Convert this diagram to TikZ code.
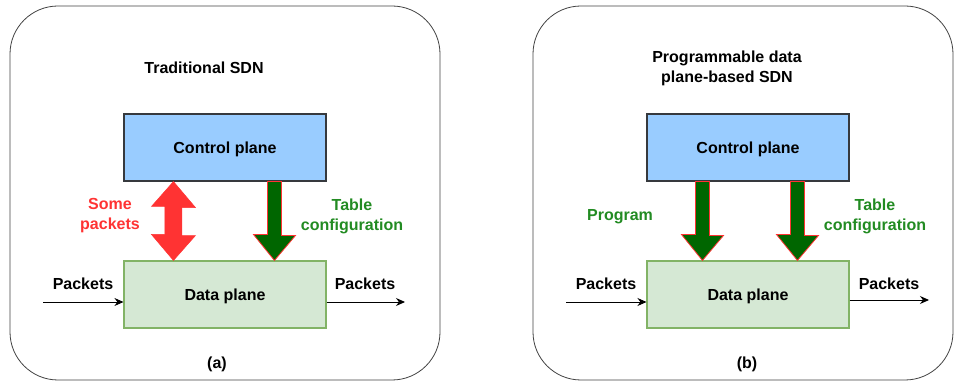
\documentclass[tikz,border=0pt]{standalone}
\usepackage{fontspec}
\setmainfont{Liberation Sans}
\usetikzlibrary{arrows.meta,positioning,calc}

\definecolor{ctrlblue}{HTML}{99CCFF}
\definecolor{ctrlline}{HTML}{36393D}
\definecolor{datagreen}{HTML}{D5E8D4}
\definecolor{dataline}{HTML}{82B366}
\definecolor{pktred}{HTML}{FF3333}
\definecolor{cfgdark}{HTML}{006600}
\definecolor{cfgtext}{HTML}{228B22}

\tikzset{
  panel/.style={draw=black!75, line width=0.8pt, rounded corners=48pt},
  plane/.style={minimum width=202pt, minimum height=67pt, line width=1.1pt, inner sep=0pt, text depth=0pt},
  ctrl/.style={plane, fill=ctrlblue, draw=ctrlline},
  dat/.style={plane, fill=datagreen, draw=dataline},
  lbl/.style={align=center, font=\bfseries\fontsize{16}{20}\selectfont},
  flow/.style={-{Stealth[length=9pt,width=8pt]}, line width=0.9pt},
  redarrow/.style={fill=pktred, draw=pktred, line width=0.5pt, line join=miter},
  greenarrow/.style={fill=cfgdark, draw=pktred, line width=0.8pt, line join=miter}
}

\begin{document}
\begin{tikzpicture}[x=1pt, y=-1pt]
\useasboundingbox (0,0) rectangle (954,382);

% (a) traditional SDN
\draw[panel] (10,6) rectangle (440,380);
\node[lbl] (titleA) at (204,68) {Traditional SDN};
\node[ctrl, lbl] (ctrlA) at (225,147.5) {Control plane};
\node[dat, lbl]  (dataA) at (225,294.5) {Data plane};
\node[lbl, text=pktred] (someA) at (110,216) {Some\\packets};
\node[lbl, text=cfgtext] (tableA) at (352,216) {Table\\configuration};
\node[lbl] (pinA)  at (83,284)  {Packets};
\node[lbl] (poutA) at (365,284) {Packets};
\node[lbl] (capA)  at (217,364) {(a)};
\coordinate (inA)  at (43,302);
\coordinate (outA) at (405,302);
\draw[flow] (inA) -- (inA -| dataA.west);
\draw[flow] (outA -| dataA.east) -- (outA);

\coordinate (pktA) at ($(ctrlA.south west)+(50,0)$);
\coordinate (cfgA) at ($(ctrlA.south west)+(151,0)$);
\draw[redarrow] (pktA) -- ++(22,26) -- ++(-13.5,0) -- ++(0,28) -- ++(13.5,0)
  -- (pktA |- dataA.north) -- ++(-22,-26) -- ++(13.5,0) -- ++(0,-28) -- ++(-13.5,0) -- cycle;
\draw[greenarrow] (cfgA) ++(-7,0) -- ++(14,0) -- ++(0,54) -- ++(14,0)
  -- (cfgA |- dataA.north) -- ++(-21,-26) -- ++(14,0) -- cycle;

% (b) programmable data plane-based SDN
\draw[panel] (533,6) rectangle (953,380);
\node[lbl] (titleB) at (727,68) {Programmable data\\plane-based SDN};
\node[ctrl, lbl] (ctrlB) at (748,147.5) {Control plane};
\node[dat, lbl]  (dataB) at (748,294.5) {Data plane};
\node[lbl, text=cfgtext] (progB) at (620,217) {Program};
\node[lbl, text=cfgtext] (tableB) at (875,216) {Table\\configuration};
\node[lbl] (pinB)  at (606,284) {Packets};
\node[lbl] (poutB) at (889,284) {Packets};
\node[lbl] (capB)  at (747,364) {(b)};
\coordinate (inB)  at (566,302);
\coordinate (outB) at (929,300);
\draw[flow] (inB) -- (inB -| dataB.west);
\draw[flow] (outB -| dataB.east) -- (outB);

\coordinate (prgB) at ($(ctrlB.south west)+(56,0)$);
\coordinate (cfgB) at ($(ctrlB.south west)+(151,0)$);
\draw[greenarrow] (prgB) ++(-7,0) -- ++(14,0) -- ++(0,54) -- ++(14,0)
  -- (prgB |- dataB.north) -- ++(-21,-26) -- ++(14,0) -- cycle;
\draw[greenarrow] (cfgB) ++(-7,0) -- ++(14,0) -- ++(0,54) -- ++(14,0)
  -- (cfgB |- dataB.north) -- ++(-21,-26) -- ++(14,0) -- cycle;
\end{tikzpicture}
\end{document}
